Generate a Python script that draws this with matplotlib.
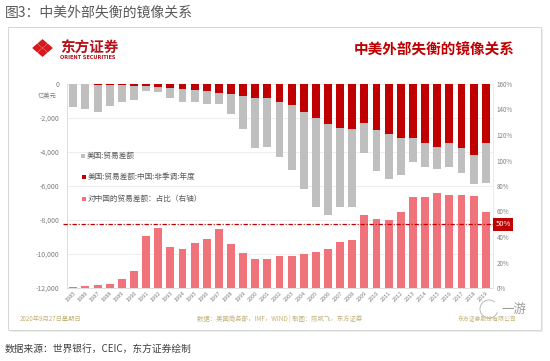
import matplotlib
matplotlib.use('Agg')
import matplotlib.pyplot as plt
from matplotlib.patches import Rectangle, Polygon, Arc
import numpy as np

plt.rcParams['font.family'] = ['Noto Sans CJK SC', 'DejaVu Sans']

# ---------------- data ----------------
years = list(range(1985, 2020))
us_balance = [-1335, -1490, -1630, -1275, -1060, -920, -410, -490, -805, -1075,
              -1075, -1160, -1175, -1765, -2650, -3785, -3705, -4290, -5040, -6180,
              -7220, -7700, -7220, -7220, -4040, -5120, -5610, -5350, -4570, -4900,
              -5000, -4900, -5220, -5860, -5840]
china_balance = [-7, -19, -34, -43, -74, -100, -130, -180, -230, -300,
                 -340, -400, -500, -570, -690, -840, -830, -1030, -1240, -1630,
                 -2020, -2350, -2570, -2670, -2280, -2700, -2960, -3160, -3200, -3490,
                 -3690, -3490, -3750, -4180, -3490]
china_share = [0.5, 1.3, 2.1, 3.4, 7.0, 13.6, 40.8, 46.8, 32.4, 30.4,
               35.5, 38.2, 46.0, 34.3, 27.2, 22.7, 23.0, 24.8, 25.1, 26.7,
               28.5, 30.8, 36.3, 37.6, 57.5, 54.1, 53.3, 59.8, 71.6, 71.1,
               74.3, 72.7, 72.7, 72.2, 59.6]
left_ticks = [0, -2000, -4000, -6000, -8000, -10000, -12000]
left_labels = ['0', '-2,000', '-4,000', '-6,000', '-8,000', '-10,000', '-12,000']
right_ticks = [0, 20, 40, 60, 80, 100, 120, 140, 160]
right_labels = ['0%', '20%', '40%', '60%', '80%', '100%', '120%', '140%', '160%']
year_labels = [str(y) for y in years]
threshold = 50
legend_labels = ['美国:贸易差额', '美国:贸易差额:中国:非季调:年度', '对中国的贸易差额：占比（右轴）']

GRAY = '#bfbfbf'
RED = '#c00000'
PINK = '#f0727a'
TXT = '#7f7f7f'
OLIVE = '#c2b27a'

W, H = 550, 361
def fx(px):
    return px / W
def fy(py):
    return 1 - py / H

fig = plt.figure(figsize=(5.5, 3.61), dpi=100)
fig.patch.set_facecolor('white')

# card with faint shadow
fig.add_artist(Rectangle((fx(9.5), fy(331.5)), (541 - 8) / W, (330 - 27) / H,
                         transform=fig.transFigure, facecolor='#ececec', edgecolor='none', zorder=-3))
fig.add_artist(Rectangle((fx(8), fy(330)), (541 - 8) / W, (330 - 27) / H,
                         transform=fig.transFigure, facecolor='white', edgecolor='#d6d6d6',
                         lw=0.7, zorder=-2))

# outer title and source
fig.text(fx(5), fy(13), '图3：中美外部失衡的镜像关系', fontsize=10, color='#595959',
         ha='left', va='center')
fig.text(fx(5), fy(349), '数据来源：世界银行，CEIC，东方证券绘制', fontsize=7, color='#404040',
         ha='left', va='center')

# logo
lax = fig.add_axes([fx(32), fy(57), 21 / W, 18 / H])
lax.set_xlim(0, 21)
lax.set_ylim(0, 18)
lax.axis('off')
cx, cy, hw, hh = 10.5, 9, 10.5, 9
s = 0.82
for dx, dy in [(0, 1), (0, -1), (1, 0), (-1, 0)]:
    pcx = cx + dx * hw / 2
    pcy = cy + dy * hh / 2
    a, b = hw / 2 * s, hh / 2 * s
    lax.add_patch(Polygon([(pcx, pcy + b), (pcx + a, pcy), (pcx, pcy - b), (pcx - a, pcy)],
                          closed=True, facecolor='#d7191c', edgecolor='#d7191c', lw=0.8,
                          joinstyle='round'))
fig.text(fx(60), fy(47.5), '东方证券', fontsize=10.5, fontweight='bold', color='#b5121b',
         ha='left', va='center')
fig.text(fx(60.5), fy(57.5), 'ORIENT SECURITIES', fontsize=3.6, fontweight='bold',
         color='#b5121b', ha='left', va='center', family='DejaVu Sans')

# chart title
fig.text(fx(515), fy(50), '中美外部失衡的镜像关系', fontsize=10.5, fontweight='bold',
         color=RED, ha='right', va='center')

# main axes
ax = fig.add_axes([fx(67), fy(288), (493 - 67) / W, (288 - 84) / H])
ax.patch.set_alpha(0)
x = np.arange(len(years))
bw = 0.65
b1 = ax.bar(x, us_balance, width=bw, color=GRAY, zorder=2)
b2 = ax.bar(x, china_balance, width=bw, color=RED, zorder=3)
ax.set_ylim(-12000, 0)
ax.set_xlim(-0.52, 34.6)
ax.set_yticks(left_ticks)
ax.set_yticklabels(left_labels)
ax.tick_params(axis='y', length=0, pad=5.5, labelsize=5, labelcolor=TXT)
ax.set_xticks(x)
ax.set_xticklabels(year_labels, rotation=45, ha='right', rotation_mode='anchor',
                   fontsize=4, color=TXT)
ax.tick_params(axis='x', length=0, pad=2)
ax.yaxis.grid(True, color='#ebebeb', lw=0.6)
ax.set_axisbelow(True)
for sp in ['top', 'right']:
    ax.spines[sp].set_visible(False)
for sp in ['left', 'bottom']:
    ax.spines[sp].set_color('#d9d9d9')
    ax.spines[sp].set_linewidth(0.6)

ax2 = ax.twinx()
b3 = ax2.bar(x, china_share, width=bw, color=PINK, zorder=2)
ax2.set_ylim(0, 160)
ax2.set_yticks(right_ticks)
ax2.set_yticklabels(right_labels)
ax2.tick_params(axis='y', length=0, pad=2.5, labelsize=4.5, labelcolor=TXT)
for sp in ['top', 'left', 'bottom']:
    ax2.spines[sp].set_visible(False)
ax2.spines['right'].set_color('#e6e6e6')
ax2.spines['right'].set_linewidth(0.6)

ax2.axhline(threshold, xmin=-0.01, xmax=1.0, color=RED, lw=0.9,
            linestyle=(0, (3.5, 1.4, 0.9, 1.4)), clip_on=False, zorder=4)
ax2.text(1.006, threshold, f'{threshold}%', transform=ax2.get_yaxis_transform(),
         ha='left', va='center', fontsize=5.5, color='white',
         bbox=dict(boxstyle='square,pad=0.3', fc=RED, ec='none'), zorder=5)

fig.text(fx(57), fy(96), '亿美元', ha='right', va='center', fontsize=4.5, color=TXT)

# legend (manual)
for (py, col, lab, mx) in [(156, GRAY, legend_labels[0], 81),
                           (177, RED, legend_labels[1], 82),
                           (199, PINK, legend_labels[2], 82)]:
    fig.add_artist(Rectangle((fx(mx), fy(py + 2)), 4 / W, 4 / H, transform=fig.transFigure,
                             facecolor=col, edgecolor='none', zorder=6))
    fig.text(fx(mx + 6), fy(py), lab, fontsize=5.5, color='#595959', ha='left',
             va='center', zorder=6)

# footer inside card
fig.text(fx(20), fy(319), '2020年9月27日星期日', fontsize=4.5, color=OLIVE, ha='left', va='center')
fig.text(fx(280), fy(319), '数据：美国商务部，IMF，WIND | 制图：陈凯飞，东方证券', fontsize=4.6,
         color=OLIVE, ha='center', va='center')
fig.text(fx(516), fy(319), '东方证券股份有限公司', fontsize=4.2, color=OLIVE, ha='right', va='center')

# watermark
fig.text(fx(514), fy(309), '一游', fontsize=9, color='#9a9a9a', ha='center', va='center')
fig.add_artist(Arc((fx(489), fy(309)), 18 / W, 18 / H, theta1=60, theta2=330,
                   transform=fig.transFigure, color='#b0b0b0', lw=0.6))

fig.savefig('out.png', dpi=100, facecolor='white')
